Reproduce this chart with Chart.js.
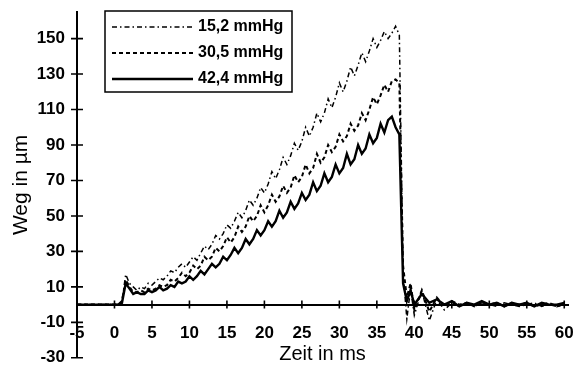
<!DOCTYPE html>
<html>
<head>
<meta charset="utf-8">
<script src="https://cdn.jsdelivr.net/npm/chart.js@4.4.1/dist/chart.umd.min.js"></script>
<style>
  html, body { margin: 0; padding: 0; background: #fff; }
</style>
</head>
<body>
<canvas id="chart" width="576" height="368"></canvas>
<script>
// time axis (ms)
const times = [
  -5,
  0, 0.5, 1, 1.5, 2, 2.5, 3, 3.5, 4, 4.5, 5, 5.5, 6, 6.5, 7, 7.5, 8, 8.5, 9, 9.5,
  10, 10.5, 11, 11.5, 12, 12.5, 13, 13.5, 14, 14.5, 15, 15.5, 16, 16.5, 17, 17.5, 18, 18.5, 19, 19.5,
  20, 20.5, 21, 21.5, 22, 22.5, 23, 23.5, 24, 24.5, 25, 25.5, 26, 26.5, 27, 27.5, 28, 28.5, 29, 29.5,
  30, 30.5, 31, 31.5, 32, 32.5, 33, 33.5, 34, 34.5, 35, 35.5, 36, 36.5, 37, 37.5, 38, 38.5, 39, 39.5,
  40, 41, 42, 43, 44, 45, 46, 47, 48, 49, 50, 51, 52, 53, 54, 55, 56, 57, 58, 59, 60
];

// Weg in µm, one array per pressure
const weg152 = [
  0,
  0, 0, 2, 17, 12,
  10, 8, 10, 9, 12, 11, 13, 15, 14, 16, 19, 18, 21, 23, 21,
  24, 27, 25, 29, 33, 31, 34, 39, 37, 40, 45, 43, 47, 52, 49, 53, 59, 56, 60, 66,
  63, 68, 75, 71, 76, 83, 79, 84, 91, 87, 92, 100, 95, 100, 108, 103, 108, 116, 111, 117,
  125, 120, 126, 134, 129, 135, 142, 137, 143, 150, 145, 149, 154, 150, 153, 157, 152, 18,
  -8, 9, -6,
  8, -9, 3, -3, 1, -1, 1, -1, 1, 0, -1, 1, 0, -1, 0, 1, -1, 0, -1, 0
];
const weg305 = [
  0,
  0, 0, 2, 14, 10,
  7, 7, 8, 7, 9, 8, 9, 11, 10, 11, 14, 13, 15, 18, 16,
  18, 22, 20, 22, 27, 25, 27, 32, 30, 33, 38, 35, 38, 44, 41, 44, 50, 47, 50, 56,
  52, 56, 62, 58, 61, 67, 63, 66, 73, 69, 72, 79, 74, 77, 85, 80, 83, 90, 86, 89,
  96, 92, 95, 102, 98, 101, 108, 104, 110, 117, 113, 118, 124, 120, 126, 127, 125, 22,
  4, 12, -3,
  8, -4, 4, -1, 2, 0, 1, -1, 1, 0, 1, -1, 1, 0, 1, -1, 0, 1, -1, 0
];
const weg424 = [
  0,
  0, 0, 1, 12, 9,
  6, 7, 6, 6, 8, 7, 8, 10, 8, 9, 11, 10, 13, 12, 13,
  16, 14, 16, 19, 17, 20, 23, 21, 23, 27, 25, 28, 32, 29, 32, 37, 34, 37, 42, 39,
  42, 47, 44, 47, 53, 49, 52, 58, 54, 57, 63, 59, 62, 69, 64, 67, 74, 69, 72, 79,
  74, 77, 85, 79, 82, 90, 85, 88, 96, 91, 94, 102, 97, 104, 106, 100, 96, 12,
  2, 8, 0,
  6, 1, 3, 0, 2, -1, 1, 0, 2, 0, 1, -1, 1, 0, 1, -1, 1, 0, 0, 1
];

const seriesLabels = ["15,2 mmHg", "30,5 mmHg", "42,4 mmHg"];
const xTickValues = [-5, 0, 5, 10, 15, 20, 25, 30, 35, 40, 45, 50, 55, 60];
const yTickValues = [-30, -10, 10, 30, 50, 70, 90, 110, 130, 150];

const FONT = "'Liberation Sans', Arial, sans-serif";

function points(values) {
  return times.map((t, i) => ({ x: t, y: values[i] }));
}

// cross shaped tick marks on both axes
const axisCrosses = {
  id: "axisCrosses",
  afterDraw(chart) {
    const ctx = chart.ctx;
    const xs = chart.scales.x;
    const ys = chart.scales.y;
    const y0 = ys.getPixelForValue(0);
    const x0 = chart.chartArea.left;
    ctx.save();
    ctx.strokeStyle = "#000";
    ctx.lineWidth = 1.6;
    ctx.beginPath();
    xs.ticks.forEach((t) => {
      const px = xs.getPixelForValue(t.value);
      ctx.moveTo(px, y0 - 4);
      ctx.lineTo(px, y0 + 4);
    });
    ys.ticks.forEach((t) => {
      const py = ys.getPixelForValue(t.value);
      ctx.moveTo(x0 - 6, py);
      ctx.lineTo(x0 + 6, py);
    });
    ctx.stroke();
    ctx.restore();
  },
};

// framed legend inside the plot
const boxLegend = {
  id: "boxLegend",
  afterDraw(chart) {
    const ctx = chart.ctx;
    const a = chart.chartArea;
    const left = a.left + 28;
    const top = a.top - 1;
    ctx.save();
    ctx.fillStyle = "#fff";
    ctx.fillRect(left, top, 187, 81);
    ctx.strokeStyle = "#000";
    ctx.lineWidth = 1.5;
    ctx.strokeRect(left, top, 187, 81);
    ctx.fillStyle = "#000";
    ctx.font = "bold 16px " + FONT;
    ctx.textBaseline = "middle";
    chart.data.datasets.forEach((ds, i) => {
      const y = top + 16 + i * 26;
      ctx.setLineDash(ds.borderDash || []);
      ctx.lineWidth = ds.borderWidth;
      ctx.beginPath();
      ctx.moveTo(left + 7, y);
      ctx.lineTo(left + 88, y);
      ctx.stroke();
      ctx.setLineDash([]);
      ctx.fillText(ds.label, left + 93, y);
    });
    ctx.restore();
  },
};

// invisible tick marks only push the labels away from the axis
function hiddenGrid(len) {
  return {
    display: true,
    drawOnChartArea: false,
    drawTicks: true,
    tickLength: len,
    tickColor: "rgba(0,0,0,0)",
  };
}

new Chart(document.getElementById("chart"), {
  type: "line",
  data: {
    datasets: [
      {
        label: seriesLabels[0],
        data: points(weg152),
        borderColor: "#000",
        borderWidth: 1.5,
        borderDash: [5, 3, 1.5, 3],
        pointRadius: 0,
        fill: false,
      },
      {
        label: seriesLabels[1],
        data: points(weg305),
        borderColor: "#000",
        borderWidth: 2,
        borderDash: [4, 3],
        pointRadius: 0,
        fill: false,
      },
      {
        label: seriesLabels[2],
        data: points(weg424),
        borderColor: "#000",
        borderWidth: 2.4,
        pointRadius: 0,
        fill: false,
      },
    ],
  },
  options: {
    responsive: false,
    animation: false,
    layout: { padding: { top: 12, right: 8, bottom: 10, left: 0 } },
    plugins: {
      legend: { display: false },
      tooltip: { enabled: false },
    },
    scales: {
      x: {
        type: "linear",
        min: -5,
        max: 60.5,
        position: { y: 0 },
        afterBuildTicks: (s) => {
          s.ticks = xTickValues.map((v) => ({ value: v }));
        },
        afterFit: (s) => {
          s.height = 62;
        },
        ticks: {
          color: "#000",
          font: { family: FONT, size: 17, weight: "bold" },
          padding: 0,
          maxRotation: 0,
          autoSkip: false,
        },
        grid: hiddenGrid(19),
        border: { display: true, color: "#000", width: 2 },
        title: {
          display: true,
          text: "Zeit in ms",
          color: "#000",
          font: { family: FONT, size: 20 },
          padding: 0,
        },
      },
      y: {
        type: "linear",
        min: -30,
        max: 165,
        afterBuildTicks: (s) => {
          s.ticks = yTickValues.map((v) => ({ value: v }));
        },
        afterFit: (s) => {
          s.width = 77;
        },
        ticks: {
          color: "#000",
          font: { family: FONT, size: 17, weight: "bold" },
          padding: 0,
          autoSkip: false,
        },
        grid: hiddenGrid(12),
        border: { display: true, color: "#000", width: 2 },
        title: {
          display: true,
          text: "Weg in µm",
          color: "#000",
          font: { family: FONT, size: 21 },
          padding: { top: 9, bottom: 0 },
        },
      },
    },
  },
  plugins: [axisCrosses, boxLegend],
});
</script>
</body>
</html>
